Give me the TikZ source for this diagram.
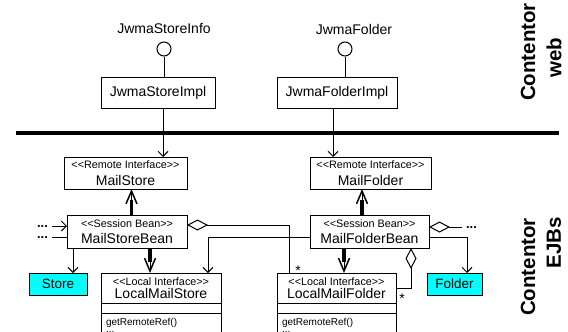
\documentclass[tikz,border=0pt]{standalone}
\usepackage{fontspec}
\setmainfont{Liberation Sans}
\usetikzlibrary{arrows.meta,positioning}

\definecolor{aqua}{RGB}{0,255,255}
\newcommand\stereo[1]{{\fontsize{10.8}{12}\selectfont<{}<#1>{}>}}

\tikzset{
  iface/.style={circle, draw, line width=1pt, minimum size=14pt, inner sep=0pt},
  impl/.style={draw, line width=1pt, minimum height=31pt, inner sep=0pt, font=\fontsize{14}{16}\selectfont},
  cls/.style={draw, line width=1pt, inner sep=0pt, outer sep=0pt, align=center, font=\fontsize{14}{16}\selectfont},
  part/.style={draw, line width=1pt, minimum height=10pt, inner sep=0pt, outer sep=0pt},
  ops/.style={draw, line width=1pt, inner xsep=5pt, inner ysep=5pt, outer sep=0pt, align=left, font=\fontsize{10}{12}\selectfont},
  ent/.style={draw, line width=1pt, fill=aqua, minimum height=22pt, inner sep=0pt, outer sep=0pt, font=\fontsize{13.5}{15}\selectfont},
  con/.style={line width=1pt},
  use/.style={con, -{Straight Barb[length=5pt,width=10pt]}},
  aggr/.style={con, {Diamond[open,length=21pt,width=11pt]}-},
  realiz/.style={line width=3.5pt, shorten >=11pt, postaction={draw, line width=1pt, shorten >=0pt, -{Straight Barb[length=13pt,width=11pt,line width=1.5pt]}}},
  more/.style={font=\bfseries\fontsize{13}{14}\selectfont, inner sep=0pt, anchor=base},
  mult/.style={font=\fontsize{14}{16}\selectfont, inner sep=0pt, anchor=base},
  tier/.style={font=\bfseries\fontsize{20.5}{24}\selectfont, rotate=90, inner sep=0pt}
}

\begin{document}
\begin{tikzpicture}[x=1pt,y=-1pt]
  \useasboundingbox (0,0) rectangle (568,332);
  \clip (0,0) rectangle (568,332);

  % web container
  \node[font=\fontsize{14}{16}\selectfont] (sinfo) at (164,29) {JwmaStoreInfo};
  \node[iface] (scirc) at (164,49) {};
  \node[impl, minimum width=114pt] (simpl) at (158,92.5) {JwmaStoreImpl};
  \node[font=\fontsize{14}{16}\selectfont] (finfo) at (354,29) {JwmaFolder};
  \node[iface] (fcirc) at (345,49) {};
  \node[impl, minimum width=120pt] (fimpl) at (337,92.5) {JwmaFolderImpl};
  \draw[con] (scirc) -- (scirc |- simpl.north);
  \draw[con] (fcirc) -- (fcirc |- fimpl.north);

  \coordinate (barL) at (16,133);
  \coordinate (barR) at (559,133);
  \draw[line width=4.5pt] (barL) -- (barR);

  % EJB container
  \node[cls, minimum width=123pt, minimum height=32pt] (mstore) at (125.5,173) {\stereo{Remote Interface}\\[1pt]MailStore};
  \node[cls, minimum width=121pt, minimum height=32pt] (mfolder) at (370.5,173) {\stereo{Remote Interface}\\[1pt]MailFolder};
  \node[cls, minimum width=120pt, minimum height=33pt] (msbean) at (127,231.5) {\stereo{Session Bean}\\MailStoreBean};
  \node[cls, minimum width=119pt, minimum height=33pt] (mfbean) at (369.5,231.5) {\stereo{Session Bean}\\MailFolderBean};
  \node[ent, minimum width=58pt] (store) at (58,284) {Store};
  \node[ent, minimum width=55pt] (folder) at (454.5,284) {Folder};

  \node[cls, minimum width=120pt, minimum height=30pt] (lmstore) at (161,288) {\stereo{Local Interface}\\[-3pt]LocalMailStore};
  \node[part, minimum width=120pt, below=0pt of lmstore] (lmstoreA) {};
  \node[ops, text width=110pt, below=0pt of lmstoreA] (lmstoreO) {getRemoteRef()\\[-4.5pt]...};
  \node[cls, minimum width=119pt, minimum height=30pt] (lmfolder) at (336.5,288) {\stereo{Local Interface}\\[-3pt]LocalMailFolder};
  \node[part, minimum width=119pt, below=0pt of lmfolder] (lmfolderA) {};
  \node[ops, text width=109pt, below=0pt of lmfolderA] (lmfolderO) {getRemoteRef()\\[-4.5pt]...};

  \draw[use] ([xshift=5pt]simpl.south) -- ([xshift=5pt]simpl.south |- mstore.north);
  \draw[use] ([xshift=-4pt]fimpl.south) -- ([xshift=-4pt]fimpl.south |- mfolder.north);

  \draw[realiz] ([xshift=4.5pt]msbean.north) -- ([xshift=4.5pt]msbean.north |- mstore.south);
  \draw[realiz] ([xshift=23pt]msbean.south) -- ([xshift=23pt]msbean.south |- lmstore.north);
  \draw[realiz] ([xshift=-7.5pt]mfbean.north) -- ([xshift=-7.5pt]mfbean.north |- mfolder.south);
  \draw[realiz] ([xshift=-25.5pt]mfbean.south) -- ([xshift=-25.5pt]mfbean.south |- lmfolder.north);

  \node[more] (ldots1) at (42.5,227) {...};
  \node[more] (ldots2) at (42.5,238) {...};
  \node[more] (rdots) at (471.5,228) {...};
  \draw[use] ([xshift=4pt]ldots1.east) -- (ldots1.east -| msbean.west);
  \draw[con] ([xshift=4pt]ldots2.east) -- (ldots2.east -| msbean.west);
  \draw[aggr] (rdots.west -| mfbean.east) -- ([xshift=-4pt]rdots.west);

  \draw[use] ([xshift=-54pt]msbean.south) -- ([xshift=-54pt]msbean.south |- store.north);
  \draw[use] ([yshift=-5.5pt]mfbean.east) -| ([xshift=12.5pt]folder.north);
  \draw[aggr] ([yshift=6.5pt]msbean.east) -| ([xshift=-47.5pt]lmfolder.north);
  \draw[use] ([yshift=-5.5pt]mfbean.west) -| ([xshift=47pt]lmstore.north);
  \draw[aggr] ([xshift=41.5pt]mfbean.south) |- (lmfolder.east);
  \node[mult] (m1) at (298,275) {*};
  \node[mult] (m2) at (402,303) {*};

  % container labels
  \node[tier] (webA) at (528,52) {Contentor};
  \node[tier] (webB) at (554,58) {web};
  \node[tier] (ejbA) at (528,267) {Contentor};
  \node[tier] (ejbB) at (554,243) {EJBs};
\end{tikzpicture}
\end{document}
